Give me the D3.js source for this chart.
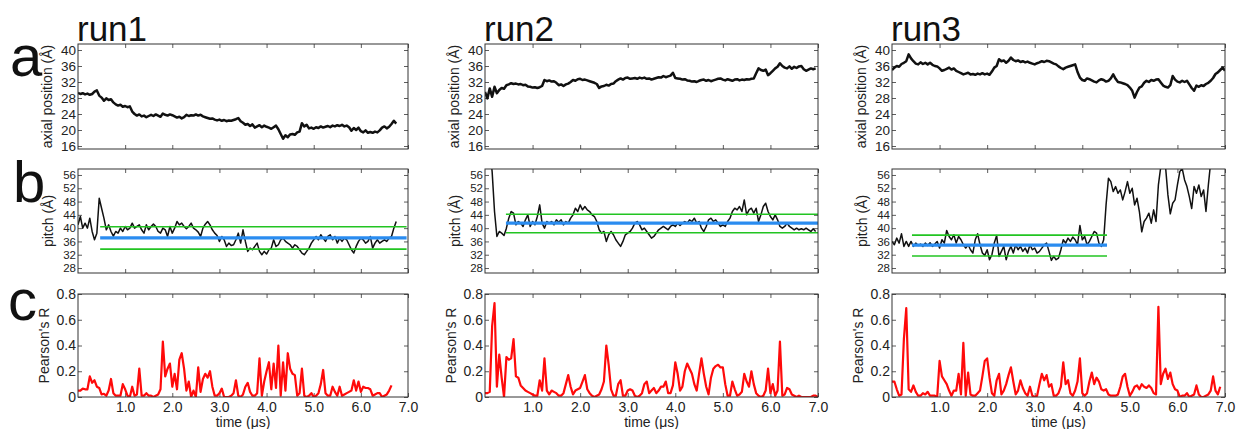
<!DOCTYPE html>
<html><head><meta charset="utf-8">
<script src="https://cdn.jsdelivr.net/npm/d3@7"></script>
<style>
body{margin:0;background:#fff}
svg{display:block}
text{font-family:"Liberation Sans",Arial,sans-serif}
</style>
</head><body>
<svg id="chart" width="1237" height="429"></svg>
<script>
// ---------- data ----------
const runNames = ["run1", "run2", "run3"];
const panelLetters = ["a", "b", "c"];
const dt = 0.05; // sampling interval (µs)

const xTicks = [1, 2, 3, 4, 5, 6, 7];
const xTickLabels = ["1.0", "2.0", "3.0", "4.0", "5.0", "6.0", "7.0"];
const axialTicks = [16, 20, 24, 28, 32, 36, 40];
const pitchTicks = [28, 32, 36, 40, 44, 48, 52, 56];
const pearsonTicks = [0, 0.2, 0.4, 0.6, 0.8];
const pearsonTickLabels = ["0", "0.2", "0.4", "0.6", "0.8"];

const axial1 = [29.3,29.0,29.2,28.9,29.1,28.8,29.0,29.6,29.9,28.6, 28.1,27.3,27.9,27.5,27.7,26.9,26.4,26.1,26.3,25.8, 26.0,25.7,25.9,24.6,24.0,23.6,23.9,23.4,23.6,23.2, 23.5,23.8,23.5,23.9,23.6,23.3,24.1,23.8,23.6,23.9, 23.7,23.4,23.1,23.3,22.9,23.2,23.8,23.5,23.7,23.6, 23.9,23.6,23.8,23.4,23.2,23.0,22.8,22.9,22.6,22.4, 22.6,22.3,22.5,22.2,22.4,22.3,22.5,22.7,23.0,22.2, 21.8,21.3,21.5,21.0,21.4,20.6,20.9,21.2,20.7,21.1, 20.8,20.6,20.3,20.7,21.1,20.2,19.0,17.8,18.7,18.2, 18.9,19.0,18.8,19.4,19.6,21.7,20.9,21.3,20.4,20.6, 20.3,20.7,20.5,20.9,20.6,20.8,21.0,20.7,21.1,20.9, 21.2,21.0,21.3,20.9,21.1,20.7,19.8,20.5,20.0,20.6, 19.7,19.4,19.9,19.3,19.5,19.3,19.6,19.4,19.9,20.6, 20.9,20.4,20.8,21.5,22.3,21.6];
const axial2 = [29.5,27.9,30.4,28.3,30.8,29.2,30.0,30.5,30.3,31.2, 31.4,31.7,31.5,31.6,31.4,31.5,31.2,31.3,30.9,30.8, 30.6,30.7,30.5,30.7,31.0,32.5,32.2,32.4,32.1,32.2, 31.8,31.2,31.4,31.0,31.4,31.6,32.0,32.5,32.3,32.7, 32.8,32.5,32.6,32.4,32.2,32.0,31.8,31.5,30.5,30.9, 31.0,31.3,31.1,31.5,31.6,32.2,32.6,32.9,32.6,33.0, 33.1,32.8,32.9,33.0,32.8,33.1,32.9,33.1,32.8,32.9, 32.6,32.8,33.0,33.2,33.1,33.5,33.2,33.4,33.6,34.3, 33.0,32.9,32.8,32.6,32.7,32.4,32.3,32.1,32.2,32.0, 32.3,32.5,32.6,32.3,32.5,32.2,32.4,32.6,32.8,32.9, 32.6,32.4,32.7,32.5,32.3,32.6,32.7,32.4,32.6,32.5, 32.7,32.6,32.8,32.9,34.2,35.4,35.0,34.8,35.1,33.7, 34.2,34.8,35.4,35.8,36.7,36.0,35.6,35.4,35.9,35.3, 35.8,35.5,35.9,36.0,35.2,34.8,35.1,35.4,35.2,35.4];
const axial3 = [35.0,35.6,36.0,35.8,36.5,36.8,37.2,38.9,37.9,37.2, 36.6,36.4,36.9,36.5,36.8,36.4,36.8,36.3,36.0,35.9, 35.4,34.8,35.0,35.3,35.6,35.1,35.4,34.8,34.5,34.2, 33.9,34.1,34.3,33.9,34.0,33.8,34.1,33.9,34.2,33.9, 34.1,33.8,34.6,35.6,36.0,37.7,37.2,37.4,36.8,37.3, 38.1,37.5,37.2,37.4,37.0,37.2,36.9,37.1,36.8,36.6, 36.4,36.7,36.9,37.2,37.0,37.3,37.2,36.9,36.6,36.4, 35.9,35.5,35.2,35.6,35.8,36.0,36.2,36.4,34.5,33.1, 32.5,32.3,32.9,32.7,32.4,32.1,31.9,32.4,32.7,32.5, 32.1,32.3,32.9,33.9,32.8,32.0,31.9,31.7,31.5,31.2, 30.6,29.8,28.1,29.5,30.6,30.9,31.8,32.3,32.0,32.5, 32.3,32.6,32.7,31.9,31.1,30.8,30.6,31.2,33.5,32.6, 32.1,31.9,32.3,32.0,32.3,31.4,30.5,29.8,31.1,30.8, 31.2,31.0,31.5,31.8,32.3,33.0,34.0,34.4,35.0,35.6, 34.8];

const pitch1 = [41.0,43.5,40.0,41.5,40.0,43.0,39.0,36.5,38.5,49.0, 46.0,43.0,39.5,41.0,39.0,37.6,39.0,38.5,40.0,39.0, 40.5,39.5,40.0,41.5,40.0,40.5,41.0,39.5,38.5,41.0, 39.5,40.5,41.2,40.5,39.0,38.5,40.0,39.5,37.5,40.5, 38.5,40.0,42.0,41.0,41.5,40.5,39.8,40.5,41.5,40.0, 39.5,38.8,37.5,40.0,41.2,42.0,41.0,39.5,38.5,37.8, 36.0,37.5,36.5,34.5,35.5,34.8,35.0,36.5,38.5,35.5, 39.5,36.0,33.0,34.0,33.5,34.5,35.5,33.0,32.0,33.0, 32.2,33.5,34.0,36.5,34.5,35.0,36.5,37.0,36.0,35.5, 35.0,34.0,35.0,34.5,33.5,32.5,32.0,33.0,34.0,35.5, 36.5,37.5,36.5,38.0,37.0,36.0,37.5,38.0,36.5,37.5, 35.5,37.0,36.0,37.0,36.5,35.0,33.5,32.5,34.5,36.0, 37.0,36.5,35.5,36.0,37.5,34.0,35.5,36.5,35.5,36.0, 36.5,36.0,37.0,37.5,40.0,42.0];
const pitch2 = [75,70,64,57,45,37.5,39.0,38.5,37.8,40.0, 43.0,45.0,44.5,41.0,42.0,41.5,40.5,42.5,44.0,40.5, 42.0,41.0,43.5,47.0,41.5,40.0,42.0,41.5,42.0,41.0, 42.5,41.8,42.5,41.0,42.0,41.5,43.0,44.0,46.0,45.0, 47.0,45.5,46.5,45.5,45.0,44.0,43.5,42.0,39.5,38.5, 39.0,36.0,38.0,39.0,38.0,36.5,35.5,34.5,36.0,38.0, 38.5,39.0,40.0,41.5,42.0,41.0,39.5,40.0,39.0,38.0, 37.0,37.5,38.5,39.5,40.0,40.5,40.0,39.5,40.5,41.0, 40.5,41.5,40.8,41.5,42.0,41.5,42.5,42.0,43.0,41.5, 42.0,40.0,39.0,40.5,42.5,43.0,42.0,42.5,41.5,40.5, 41.0,40.5,42.0,43.0,45.0,46.0,45.5,46.5,45.0,48.5, 44.0,45.5,46.0,44.5,46.0,42.0,44.0,46.5,47.5,45.0, 43.5,42.5,44.0,42.5,40.5,40.0,40.5,41.5,40.5,40.0, 39.5,40.0,39.5,39.8,39.5,40.0,39.5,39.0,39.8,39.0];
const pitch3 = [36.0,35.0,37.0,35.5,38.3,34.5,36.0,34.5,36.0,34.5, 35.5,34.8,35.2,34.5,35.5,34.8,35.6,34.5,35.2,36.0, 34.0,36.5,35.5,39.3,37.5,36.5,38.0,35.5,37.5,36.5, 35.0,34.0,35.0,33.5,32.5,36.5,38.3,35.0,32.5,31.8, 33.5,30.5,32.0,35.5,37.8,31.5,33.0,34.5,30.5,33.0, 34.5,32.5,35.0,33.5,34.5,33.0,34.0,32.5,35.0,33.5, 34.0,32.5,33.0,34.0,35.0,35.5,33.0,30.3,31.5,30.5, 31.0,33.5,36.5,35.5,37.0,36.0,37.3,36.5,35.0,40.8, 36.5,37.5,35.0,36.0,37.5,39.0,38.5,35.5,34.5,36.5, 47.0,55.0,54.0,51.0,52.5,50.5,51.5,48.5,51.0,54.0, 50.5,52.0,47.0,49.0,45.0,38.9,42.0,43.0,44.5,41.5, 45.5,42.0,53.0,58.5,60.0,58.5,50.0,44.3,47.5,48.5, 53.0,57.0,58.0,54.5,52.5,49.5,45.9,52.5,50.5,53.0, 49.5,51.5,45.0,53.0,60.0,62.0];

// pitch reference levels: mean (blue) and mean ± sd (green), with their time span
const pitchMean = [37.1, 41.5, 34.9];
const pitchLow = [33.7, 38.6, 31.6];
const pitchHigh = [40.4, 44.2, 37.9];
const bandStart = [0.47, 0.44, 0.42];
const bandEnd = [6.97, 7.0, 4.52];

const pearson1 = [0.05,0.05,0.065,0.06,0.06,0.16,0.11,0.13,0.08,0.07, 0.02,0.025,0.01,0.05,0.14,0.03,0.01,0.01,0.01,0.10, 0.06,0.01,0.0,0.08,0.01,0.02,0.22,0.01,0.01,0.03, 0.01,0.01,0.0,0.01,0.02,0.06,0.43,0.16,0.22,0.26, 0.08,0.18,0.06,0.29,0.34,0.22,0.05,0.12,0.0,0.05, 0.0,0.23,0.04,0.14,0.18,0.15,0.20,0.08,0.01,0.01, 0.03,0.065,0.0,0.0,0.0,0.01,0.03,0.13,0.01,0.0, 0.02,0.08,0.11,0.04,0.01,0.01,0.03,0.30,0.01,0.12, 0.20,0.27,0.06,0.26,0.07,0.40,0.01,0.27,0.05,0.34, 0.22,0.18,0.17,0.01,0.03,0.22,0.01,0.0,0.01,0.03, 0.0,0.01,0.03,0.10,0.21,0.03,0.01,0.01,0.08,0.04, 0.01,0.08,0.01,0.02,0.03,0.04,0.05,0.13,0.05,0.12, 0.04,0.08,0.07,0.07,0.06,0.01,0.02,0.03,0.03,0.0, 0.01,0.02,0.05,0.09];
const pearson2 = [0.03,0.03,0.04,0.55,0.73,0.08,0.33,0.15,0.0,0.31, 0.29,0.30,0.45,0.16,0.15,0.09,0.07,0.05,0.04,0.03, 0.02,0.01,0.01,0.13,0.05,0.30,0.05,0.02,0.05,0.04, 0.03,0.01,0.01,0.03,0.10,0.17,0.08,0.02,0.05,0.06, 0.07,0.12,0.17,0.06,0.03,0.01,0.0,0.01,0.02,0.06, 0.12,0.40,0.25,0.06,0.01,0.01,0.10,0.13,0.01,0.01, 0.05,0.06,0.05,0.01,0.0,0.01,0.03,0.10,0.12,0.03, 0.05,0.07,0.03,0.05,0.08,0.08,0.12,0.03,0.03,0.09, 0.27,0.18,0.05,0.08,0.20,0.26,0.22,0.18,0.10,0.05, 0.18,0.30,0.18,0.08,0.02,0.15,0.22,0.24,0.25,0.23, 0.23,0.10,0.01,0.01,0.12,0.06,0.01,0.02,0.04,0.18, 0.12,0.08,0.20,0.10,0.03,0.01,0.0,0.01,0.05,0.22, 0.03,0.10,0.01,0.05,0.43,0.01,0.02,0.07,0.06,0.02, 0.01,0.0,0.01,0.0,0.0,0.0,0.0,0.0,0.01,0.01, 0.0];
const pearson3 = [0.12,0.12,0.06,0.01,0.02,0.45,0.69,0.06,0.04,0.09, 0.04,0.01,0.01,0.03,0.02,0.04,0.01,0.01,0.01,0.0, 0.28,0.16,0.13,0.10,0.05,0.01,0.05,0.05,0.18,0.02, 0.42,0.01,0.19,0.02,0.01,0.01,0.03,0.05,0.16,0.28, 0.30,0.15,0.03,0.01,0.13,0.18,0.02,0.05,0.10,0.17, 0.23,0.12,0.02,0.05,0.13,0.07,0.03,0.01,0.08,0.01, 0.0,0.01,0.10,0.18,0.13,0.17,0.08,0.10,0.01,0.01, 0.03,0.08,0.27,0.10,0.13,0.03,0.01,0.05,0.12,0.30, 0.03,0.01,0.03,0.12,0.19,0.10,0.15,0.12,0.06,0.05, 0.06,0.02,0.01,0.01,0.01,0.02,0.08,0.16,0.18,0.08, 0.01,0.04,0.08,0.09,0.06,0.10,0.08,0.07,0.09,0.07, 0.03,0.02,0.70,0.10,0.18,0.22,0.14,0.19,0.10,0.06, 0.05,0.0,0.01,0.01,0.03,0.0,0.01,0.02,0.09,0.02, 0.0,0.0,0.01,0.02,0.05,0.16,0.05,0.02,0.08];

// ---------- layout ----------
const svg = d3.select("#chart");
const colLeft = [78, 485, 892];
const colWidth = [330, 333, 333];
const rowsCfg = [
  {top: 44, h: 105, domain: [15.25, 41.5], ticks: axialTicks, fmt: d => String(d), title: "axial position (Å)",
   series: [axial1, axial2, axial3], color: "#111", width: 2.5, tickFont: 13.5, titleX: -31},
  {top: 169, h: 104, domain: [26.5, 57.8], ticks: pitchTicks, fmt: d => String(d), title: "pitch (Å)",
   series: [pitch1, pitch2, pitch3], color: "#111", width: 1.5, tickFont: 11.5, titleX: -30},
  {top: 294, h: 103, domain: [0, 0.8], ticks: pearsonTicks, fmt: (d, i) => pearsonTickLabels[i], title: "Pearson's R",
   series: [pearson1, pearson2, pearson3], color: "#ff0a0a", width: 2.2, tickFont: 14, titleX: -34}
];
const axisColor = "#333";
const tickTextColor = "#222";

rowsCfg.forEach((row, r) => {
  runNames.forEach((run, c) => {
    const w = colWidth[c], h = row.h;
    const g = svg.append("g").attr("transform", `translate(${colLeft[c]},${row.top})`);
    const x = d3.scaleLinear().domain([0, 7]).range([0, w]);
    const y = d3.scaleLinear().domain(row.domain).range([h, 0]);
    const clipId = `clip-${r}-${c}`;
    g.append("clipPath").attr("id", clipId).append("rect").attr("width", w).attr("height", h);

    // axes (inward ticks)
    const left = g.append("g").call(d3.axisLeft(y).tickValues(row.ticks).tickFormat(row.fmt).tickSize(-4).tickPadding(2));
    const right = g.append("g").attr("transform", `translate(${w},0)`).call(d3.axisRight(y).tickValues(row.ticks).tickFormat("").tickSize(-4));
    const top = g.append("g").call(d3.axisTop(x).tickValues(xTicks).tickFormat("").tickSize(-4));
    const bottom = g.append("g").attr("transform", `translate(0,${h})`)
      .call(d3.axisBottom(x).tickValues(xTicks).tickFormat((d, i) => r === 2 ? xTickLabels[i] : "").tickSize(-4).tickPadding(5));
    [left, right, top, bottom].forEach(a => {
      a.select(".domain").remove();
      a.selectAll(".tick line").attr("stroke", axisColor).attr("stroke-width", 0.8);
      a.selectAll("text").attr("fill", tickTextColor).style("font-family", '"Liberation Sans",Arial,sans-serif');
    });
    left.selectAll("text").style("font-size", row.tickFont + "px");
    bottom.selectAll("text").style("font-size", "14px");

    // y-axis title
    g.append("text")
      .attr("transform", `translate(${row.titleX},${h / 2}) rotate(-90)`)
      .attr("text-anchor", "middle").attr("dominant-baseline", "central")
      .attr("fill", tickTextColor).style("font-size", "14px")
      .text(row.title);

    const plot = g.append("g").attr("clip-path", `url(#${clipId})`);
    const line = d3.line().x((d, i) => x(i * dt)).y(d => y(d));
    plot.append("path").datum(row.series[c])
      .attr("d", line).attr("fill", "none")
      .attr("stroke", row.color).attr("stroke-width", row.width).attr("stroke-linejoin", "round");

    if (r === 1) {
      const lvls = [
        {v: pitchHigh[c], col: "#22c422", sw: 1.6},
        {v: pitchLow[c], col: "#22c422", sw: 1.6},
        {v: pitchMean[c], col: "#2a8cf0", sw: 3.2}
      ];
      lvls.forEach(l => {
        plot.append("line")
          .attr("x1", x(bandStart[c])).attr("x2", x(bandEnd[c]))
          .attr("y1", y(l.v)).attr("y2", y(l.v))
          .attr("stroke", l.col).attr("stroke-width", l.sw);
      });
    }

    // frame
    g.append("rect").attr("width", w).attr("height", h)
      .attr("fill", "none").attr("stroke", axisColor).attr("stroke-width", 1);

    if (r === 2) {
      g.append("text").attr("x", w / 2).attr("y", h + 30)
        .attr("text-anchor", "middle").attr("fill", tickTextColor).style("font-size", "14px")
        .text("time (μs)");
    }
    if (r === 0) {
      g.append("text").attr("x", -1).attr("y", -3)
        .attr("fill", "#111").style("font-size", "35px")
        .text(run);
    }
  });
});

// panel letters
const letterPos = [{x: 10, y: 76}, {x: 13, y: 202}, {x: 8, y: 320}];
panelLetters.forEach((L, i) => {
  svg.append("text").attr("x", letterPos[i].x).attr("y", letterPos[i].y)
    .attr("fill", "#111").style("font-size", "58px").text(L);
});
</script>
</body></html>
